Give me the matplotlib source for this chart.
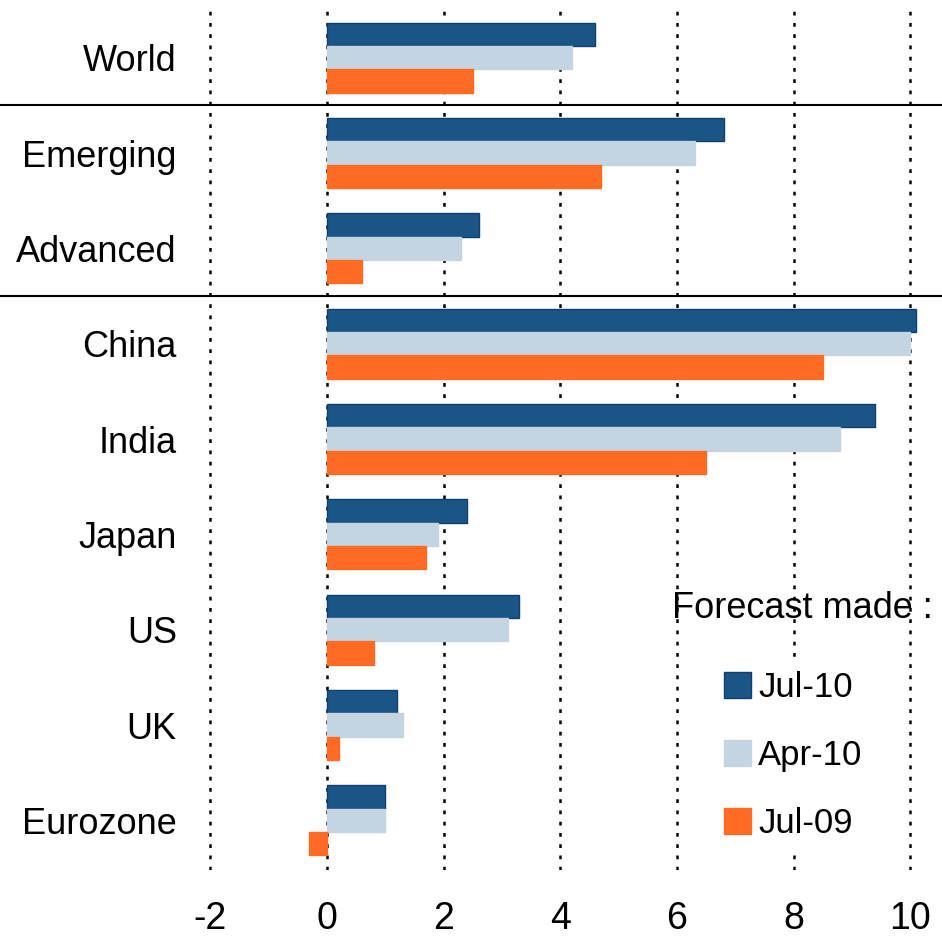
import numpy as np
import matplotlib.pyplot as plt
from matplotlib.lines import Line2D

plt.rcParams['font.family'] = ['Liberation Sans', 'DejaVu Sans']

categories = ['World', 'Emerging', 'Advanced', 'China', 'India', 'Japan', 'US', 'UK', 'Eurozone']
jul10 = [4.6, 6.8, 2.6, 10.1, 9.4, 2.4, 3.3, 1.2, 1.0]
apr10 = [4.2, 6.3, 2.3, 10.0, 8.8, 1.9, 3.1, 1.3, 1.0]
jul09 = [2.5, 4.7, 0.6, 8.5, 6.5, 1.7, 0.8, 0.2, -0.3]
series_labels = ['Jul-10', 'Apr-10', 'Jul-09']
xticks = [-2, 0, 2, 4, 6, 8, 10]

colors = ['#1B5587', '#C5D4E1', '#FF6B22']
edges = ['#0F3F6E', '#C5D4E1', '#FF6B22']

fig = plt.figure(figsize=(9.42, 9.42), dpi=100)
ax = fig.add_axes([181 / 942, 72 / 942, 747 / 942, 860 / 942])

y = np.arange(len(categories))
h = 0.245
for i, (vals, lab) in enumerate(zip([jul10, apr10, jul09], series_labels)):
    ax.barh(y + (i - 1) * h, vals, height=h, color=colors[i], edgecolor=edges[i],
            linewidth=1, label=lab, zorder=3)

ax.set_xlim(-2.5, 10.3)
ax.set_ylim(len(categories) - 0.48, -0.5)
ax.set_xticks(xticks)
ax.set_xticklabels([str(t) for t in xticks], fontsize=27)
ax.set_yticks(y)
ax.set_yticklabels(categories, fontsize=26)
ax.tick_params(length=0)
ax.tick_params(axis='y', pad=3)
ax.tick_params(axis='x', pad=22)
for s in ax.spines.values():
    s.set_visible(False)

for t in xticks:
    ax.axvline(t, color='black', linestyle=(0, (1.5, 3)), linewidth=1.8, zorder=1)

# separator lines across the full figure width
for yy in [0.5, 2.5]:
    y_fig = fig.transFigure.inverted().transform(ax.transData.transform((0, yy)))[1]
    fig.add_artist(Line2D([0, 1], [y_fig, y_fig], color='black', linewidth=1.5))

fig.text(672 / 942, 1 - 608 / 942, 'Forecast made :', fontsize=26, va='center', ha='left')
leg = ax.legend(loc='upper left', bbox_to_anchor=(693 / 942, 1 - 640 / 942),
                bbox_transform=fig.transFigure, fontsize=25, frameon=True,
                facecolor='white', edgecolor='none', framealpha=1,
                handlelength=0.78, handleheight=0.78, handletextpad=0.2,
                labelspacing=1.0, borderpad=0.4, fancybox=False)
leg.set_zorder(5)

fig.savefig('out.png', dpi=100)
